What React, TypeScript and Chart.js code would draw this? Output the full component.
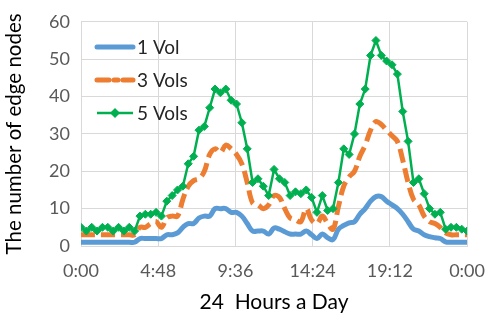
import React, { useEffect, useRef } from "react";
import { Chart, registerables } from "chart.js";

Chart.register(...registerables);

const INTERVAL_MIN = 20;
const X_TICK_STEP_MIN = 288;
const SERIES_NAMES = ["1 Vol", "3 Vols", "5 Vols"];

const vol1 = [
  1, 1, 1, 1, 1, 1, 1, 1, 1, 1, 1,
  2, 2, 2, 2, 2, 3, 3, 3.5, 5, 6, 6, 7.5, 8, 8, 10, 10, 10, 9, 9, 8,
  6, 4, 4, 4, 3.2, 4.8, 4.5, 3.8, 3.2, 3.2, 3.2, 4, 3, 2, 3.2, 2.2, 1.7,
  4.5, 5.5, 6.2, 6.5, 8.5, 10, 12, 13.2, 13.2, 12, 11, 10, 8.5, 6.5, 4.5,
  4, 3, 2.5, 2.2, 2, 1.1, 1, 1, 1, 1,
];

const vol3 = [
  3, 3, 3, 3, 3, 3, 3, 3, 3, 3, 3,
  5, 5, 6, 6.5, 5, 7.5, 8, 8, 12.5, 16, 17.5, 18, 20, 24.5, 26, 25, 27, 26, 24.5, 22,
  17, 11.5, 11, 10, 11, 13.5, 13, 10, 7.5, 7, 6.5, 10, 7, 6, 8, 6, 4.5,
  10.5, 16, 18.5, 20, 24, 27, 31, 33.3, 32.5, 31, 29.5, 28, 23, 17, 12.5,
  11, 8, 6.5, 6, 5, 3.5, 3, 3, 3, 3,
];

const vol5 = [
  5, 4, 5, 4, 5, 5, 4, 5, 4, 5, 4,
  8, 8.5, 8.5, 9, 8, 12, 13.5, 15, 16, 22, 24, 31, 32, 37, 42, 41, 42, 39, 38, 33,
  26, 17, 18, 16, 13.5, 20.5, 18, 17, 13.5, 14.5, 14, 15, 13, 9, 13.5, 9.5, 10,
  17, 26, 24.5, 30, 38, 42, 51, 55, 51, 49.5, 48.5, 46, 36, 28, 17,
  18, 14, 10, 8.5, 9, 4.5, 5, 5, 4.5, 4,
];

const COLORS = ["#5B9BD5", "#ED7D31", "#00B050"];
const FONT = "Lato";

function toPoints(vals: number[]) {
  return vals.map((v, i) => ({ x: i * INTERVAL_MIN, y: v }));
}

function fmtTime(m: number) {
  const mm = Math.round(m) % 1440;
  const h = Math.floor(mm / 60);
  const mi = mm % 60;
  return `${h}:${mi < 10 ? "0" : ""}${mi}`;
}

const legendPlugin = {
  id: "customLegend",
  afterDraw(chart: any) {
    const ctx = chart.ctx;
    const x0 = 97;
    const x1 = 133;
    const ys = [47, 80, 113];
    ctx.save();
    ctx.font = `19px ${FONT}`;
    ctx.textBaseline = "middle";
    ctx.textAlign = "left";
    SERIES_NAMES.forEach((name, i) => {
      const y = ys[i];
      ctx.strokeStyle = COLORS[i];
      ctx.lineCap = i === 2 ? "butt" : "round";
      ctx.lineWidth = i === 2 ? 2.5 : 5;
      ctx.setLineDash(i === 1 ? [12, 5, 4, 5] : []);
      ctx.beginPath();
      ctx.moveTo(x0, y);
      ctx.lineTo(x1, y);
      ctx.stroke();
      ctx.setLineDash([]);
      if (i === 2) {
        const cx = (x0 + x1) / 2;
        const r = 5;
        ctx.fillStyle = COLORS[i];
        ctx.beginPath();
        ctx.moveTo(cx, y - r);
        ctx.lineTo(cx + r, y);
        ctx.lineTo(cx, y + r);
        ctx.lineTo(cx - r, y);
        ctx.closePath();
        ctx.fill();
      }
      ctx.fillStyle = "#262626";
      ctx.fillText(name, 137, y + 1);
    });
    ctx.restore();
  },
};

export default function App() {
  const ref = useRef<HTMLCanvasElement>(null);
  useEffect(() => {
    if (!ref.current) return;
    const chart = new Chart(ref.current, {
      type: "line",
      data: {
        datasets: [
          {
            label: SERIES_NAMES[0],
            data: toPoints(vol1),
            borderColor: COLORS[0],
            backgroundColor: COLORS[0],
            borderWidth: 5,
            pointRadius: 0,
            tension: 0.4,
            order: 2,
          },
          {
            label: SERIES_NAMES[1],
            data: toPoints(vol3),
            borderColor: COLORS[1],
            backgroundColor: COLORS[1],
            borderWidth: 5,
            borderDash: [14, 6],
            pointRadius: 0,
            tension: 0.4,
            order: 1,
          },
          {
            label: SERIES_NAMES[2],
            data: toPoints(vol5),
            borderColor: COLORS[2],
            backgroundColor: COLORS[2],
            borderWidth: 2.5,
            pointStyle: "rectRot",
            pointRadius: 4,
            pointBorderWidth: 1,
            tension: 0,
            order: 0,
          },
        ],
      },
      options: {
        responsive: false,
        animation: false,
        devicePixelRatio: 1,
        layout: { padding: { top: 10, right: 20, left: 0, bottom: 0 } },
        plugins: { legend: { display: false }, tooltip: { enabled: false } },
        scales: {
          x: {
            type: "linear",
            min: 0,
            max: 1440,
            afterFit: (s: any) => {
              s.height = 74;
            },
            afterBuildTicks: (s: any) => {
              const t = [];
              for (let v = 0; v <= 1440; v += X_TICK_STEP_MIN) t.push({ value: v });
              s.ticks = t;
            },
            ticks: {
              callback: (v: any) => fmtTime(Number(v)),
              color: "#595959",
              font: { family: FONT, size: 18 },
              padding: 14,
              maxRotation: 0,
            },
            grid: { color: "#D9D9D9", drawTicks: false },
            border: { color: "#D9D9D9" },
            title: {
              display: true,
              text: "24  Hours a Day",
              color: "#000000",
              font: { family: FONT, size: 21 },
              padding: { top: 0, bottom: 5 },
            },
          },
          y: {
            min: 0,
            max: 60,
            afterFit: (s: any) => {
              s.width = 81;
            },
            ticks: {
              stepSize: 10,
              color: "#595959",
              font: { family: FONT, size: 18 },
              padding: 11,
            },
            grid: { color: "#D9D9D9", drawTicks: false },
            border: { color: "#D9D9D9" },
            title: {
              display: true,
              text: "The number of edge nodes",
              color: "#000000",
              font: { family: FONT, size: 20.5 },
              padding: { top: 2, bottom: 0 },
            },
          },
        },
      },
      plugins: [legendPlugin],
    } as any);
    return () => chart.destroy();
  }, []);
  return (
    <div style={{ position: "fixed", left: 0, top: 0, width: 499, height: 320, background: "#fff" }}>
      <canvas ref={ref} width={499} height={320} style={{ width: 499, height: 320 }} />
    </div>
  );
}
